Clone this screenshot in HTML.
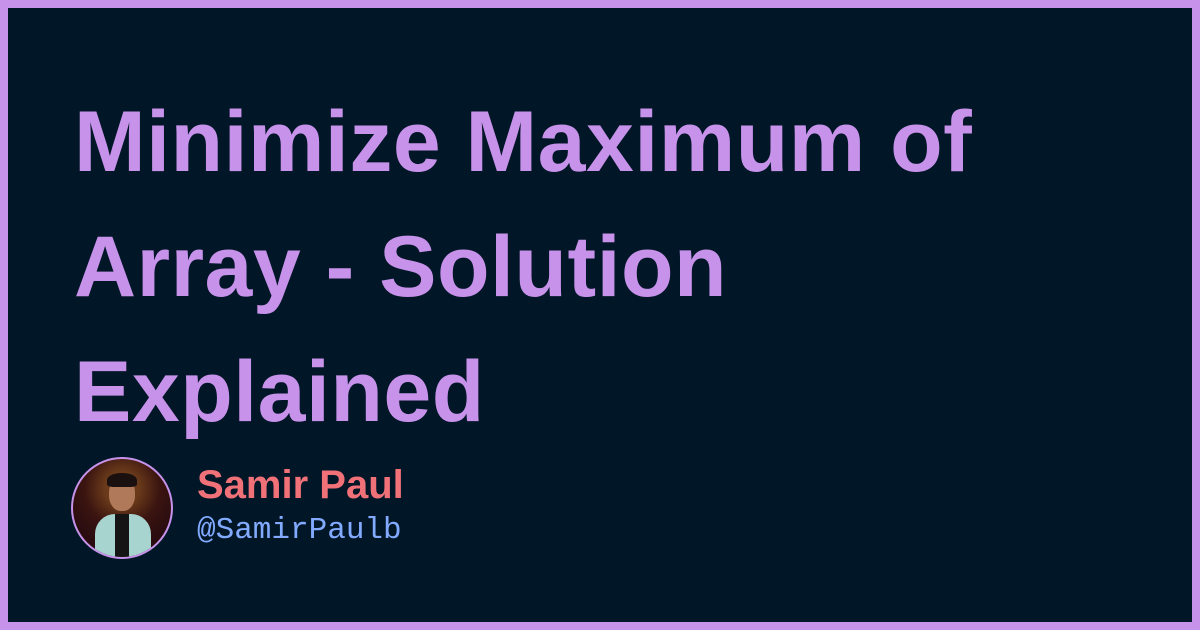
<!DOCTYPE html>
<html><head><style>
html,body{margin:0;padding:0}
body{width:1200px;height:630px;background:#c792ea;position:relative;overflow:hidden}
.in{position:absolute;left:8px;top:8px;width:1184px;height:614px;background:#011627}
h1{position:absolute;left:74px;top:80px;margin:0;font:bold 86px/125px "Liberation Sans",sans-serif;color:#c792ea;letter-spacing:0.5px;width:1000px}
.av{position:absolute;left:71px;top:457px;width:98px;height:98px;border-radius:50%;border:2px solid #c792ea;background:radial-gradient(circle at 50% 30%,#6a3a1a 0 20%,#3a1410 45%,#2a0c10 70%);overflow:hidden}
.body{position:absolute;left:22px;top:55px;width:56px;height:60px;background:#a8d4d0;border-radius:20px 20px 0 0}
.shirt{position:absolute;left:42px;top:55px;width:14px;height:50px;background:#151515}
.head{position:absolute;left:36px;top:18px;width:26px;height:34px;background:#b07a5a;border-radius:45%}
.hair{position:absolute;left:34px;top:14px;width:30px;height:14px;background:#1a1010;border-radius:50% 50% 20% 20%}
.name{position:absolute;left:197px;top:463px;font:bold 40px "Liberation Sans",sans-serif;color:#f07178}
.handle{position:absolute;left:197px;top:513px;font:31px "Liberation Mono",monospace;color:#82aaff}
</style></head><body><div class="in"></div>
<h1>Minimize Maximum of<br>Array - Solution<br>Explained</h1>
<div class="av"><div class="body"></div><div class="shirt"></div><div class="head"></div><div class="hair"></div></div>
<div class="name">Samir Paul</div>
<div class="handle">@SamirPaulb</div>
</body></html>
